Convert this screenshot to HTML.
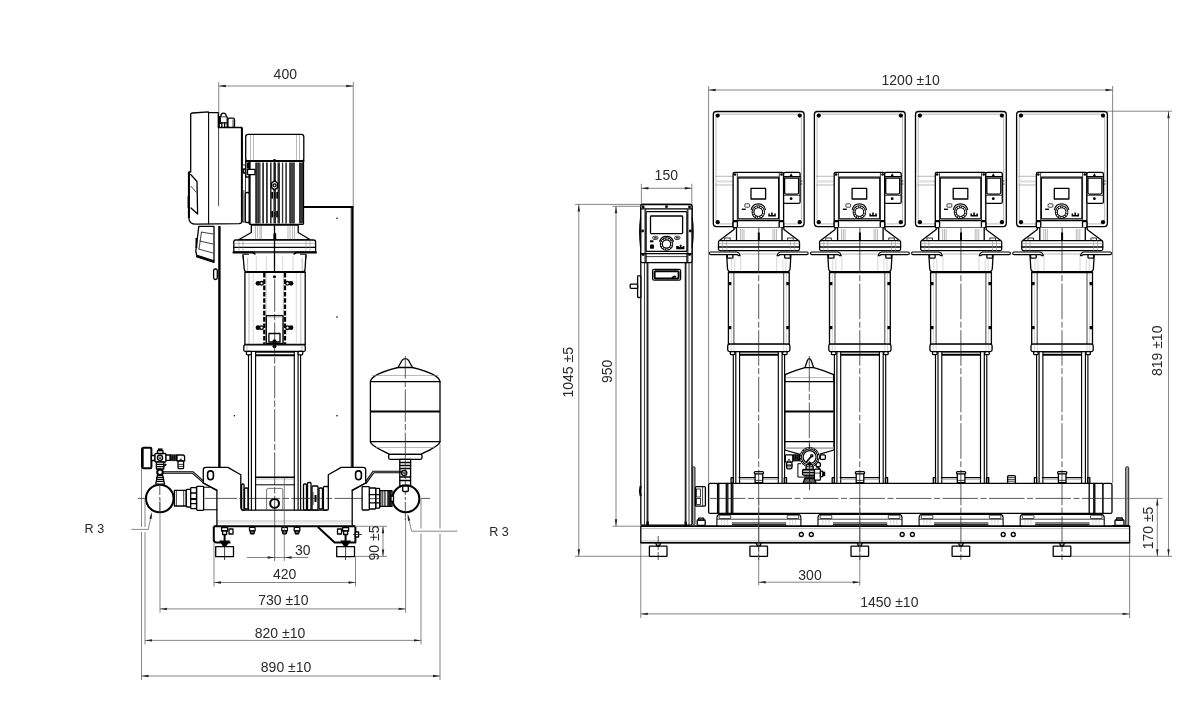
<!DOCTYPE html>
<html><head><meta charset="utf-8"><title>Drawing</title>
<style>
html,body{margin:0;padding:0;background:#fff;}
body{width:1200px;height:721px;overflow:hidden;font-family:"Liberation Sans",sans-serif;}
svg{display:block;}
.k{stroke:#000;stroke-width:1.3;fill:none;stroke-linejoin:round;stroke-linecap:round}
.kw{stroke:#000;stroke-width:1.3;fill:#fff;stroke-linejoin:round}
.K{stroke:#000;stroke-width:2;fill:none;stroke-linejoin:round}
.Kw{stroke:#000;stroke-width:2;fill:#fff;stroke-linejoin:round}
.t{stroke:#111;stroke-width:0.8;fill:none}
.tw{stroke:#111;stroke-width:0.8;fill:#fff}
.g{stroke:#8a8a8a;stroke-width:0.6;fill:none}
.gg{stroke:#bdbdbd;stroke-width:0.6;fill:none}
.d{stroke:#555;stroke-width:0.7;fill:none}
.e{stroke:#777;stroke-width:0.7;fill:none}
.c{stroke:#222;stroke-width:0.75;fill:none;stroke-dasharray:35.5 2.5 6 2.5}
.cl{stroke:#222;stroke-width:0.75;fill:none;stroke-dasharray:32.5 2.2 6.4 2.2}
.cs{stroke:#222;stroke-width:0.75;fill:none;stroke-dasharray:9 2 3 2}
.ar{fill:#222;stroke:none}
.f{fill:#000;stroke:none}
.w{fill:#fff;stroke:none}
text{font-family:"Liberation Sans",sans-serif;fill:#2a2a2a;}
svg{will-change:transform;opacity:0.999;}
</style></head><body>
<svg width="1200" height="721" viewBox="0 0 1200 721">
<rect x="0" y="0" width="1200" height="721" fill="#fff"/>
<g id="leftview">
<line x1="218.75" y1="82" x2="218.75" y2="207" class="d" />
<line x1="353.25" y1="82" x2="353.25" y2="207" class="d" />
<line x1="218.75" y1="86" x2="353.25" y2="86" class="d" />
<polygon points="218.75,86 225.75,84.8 225.75,87.2" class="ar"/>
<polygon points="353.25,86 346.25,87.2 346.25,84.8" class="ar"/>
<text x="285.3" y="79.3" text-anchor="middle" font-size="14">400</text>
<line x1="219.4" y1="226" x2="219.4" y2="467" class="K" style="stroke-width:2.4"/>
<line x1="304" y1="207" x2="353.3" y2="207" class="K" />
<line x1="352.4" y1="207" x2="352.4" y2="467" class="K" style="stroke-width:2.4"/>
<line x1="350.6" y1="208" x2="350.6" y2="467" class="g" />
<circle cx="337" cy="218.3" r="0.8" class="f" />
<circle cx="337" cy="317" r="0.8" class="f" />
<circle cx="234.4" cy="415.8" r="0.8" class="f" />
<circle cx="337" cy="415.8" r="0.8" class="f" />
<path d="M192.7,113 L208.2,111.9 L208.9,112.6 L218.3,112.6 L218.3,127.5 L241.9,127.5 L241.9,221 Q241.9,223.5 239,223.7 L196,224.2 Q189,224.2 188.9,218 L188.9,172 L190.7,172 L190.7,114.5 Q190.7,113.1 192.7,113 Z" class="kw" />
<line x1="208.6" y1="112.4" x2="208.6" y2="223.8" class="k" style="stroke-width:1.1"/>
<line x1="218.6" y1="127.5" x2="218.6" y2="206" class="t" />
<line x1="241.9" y1="128" x2="241.9" y2="222" class="K" />
<path d="M190.7,174.5 L197,181.5 L197.6,214 L191,208" class="k" />
<path d="M190.7,186 L196.5,192.5" class="t" />
<path d="M188.9,172 L188.9,218" class="K" />
<rect x="187.6" y="196" width="1.6" height="12" rx="0" class="f" />
<rect x="219.2" y="116.6" width="8.0" height="10.7" rx="0.8" class="kw" />
<path d="M220.8,116.6 Q220.8,113.2 223.4,113.2 Q226.2,113.2 226.2,116.6" class="kw" />
<rect x="219" y="116.2" width="1.9" height="7.8" rx="0" class="f" />
<line x1="219.2" y1="122.8" x2="227.2" y2="122.8" class="k" />
<line x1="221.8" y1="122.8" x2="221.8" y2="127" class="k" />
<line x1="224.6" y1="122.8" x2="224.6" y2="127" class="k" />
<rect x="227.9" y="118.2" width="6.6" height="9.1" rx="1.6" class="kw" />
<line x1="233" y1="119.5" x2="233" y2="127" class="t" />
<path d="M198.8,226.3 L214,226.3 L214,262.5 L197,257 L195.8,251 Z" class="kw" />
<path d="M196.2,255.5 L214,261.3" class="K" />
<path d="M201,232 L213,234 M199.5,241 L213,244 M198.3,249 L213,253" class="t" />
<path d="M201.5,232 L199,249" class="t" />
<rect x="195.5" y="238" width="1.8" height="10" rx="0" class="f" />
<rect x="213.6" y="269" width="3.7" height="10.5" rx="1.8" class="kw" />
<rect x="242.6" y="165" width="2.8" height="57" rx="0" class="tw" />
<line x1="243.9" y1="190" x2="243.9" y2="222" class="t" />
<rect x="243.6" y="169" width="2.2" height="4" rx="0" class="kw" />
<rect x="249.4" y="161.3" width="54.1" height="63.1" rx="1" class="kw" />
<rect x="245.8" y="161.3" width="3.6" height="15.7" rx="0" class="kw" />
<line x1="249.6" y1="162" x2="249.6" y2="224" class="K" />
<rect x="255" y="162.5" width="5.6" height="61" fill="#555"/>
<rect x="262.2" y="162.5" width="1.8" height="61" fill="#333"/>
<rect x="266" y="162.5" width="1.8" height="61" fill="#333"/>
<rect x="270" y="162.5" width="1.6" height="61" fill="#333"/>
<rect x="273.4" y="162.5" width="2.6" height="61" fill="#333"/>
<rect x="277.5" y="162.5" width="2.5" height="61" fill="#333"/>
<rect x="281.9" y="162.5" width="1.3" height="61" fill="#333"/>
<rect x="285.3" y="162.5" width="1.6" height="61" fill="#333"/>
<rect x="289" y="162.5" width="6" height="61" fill="#555"/>
<rect x="299" y="162.5" width="4" height="61" fill="#333"/>
<line x1="256.5" y1="163" x2="256.5" y2="223" class="k" style="stroke:#222;stroke-width:0.8"/>
<line x1="258.6" y1="163" x2="258.6" y2="223" class="k" style="stroke:#222;stroke-width:0.8"/>
<line x1="290.8" y1="163" x2="290.8" y2="223" class="k" style="stroke:#222;stroke-width:0.8"/>
<line x1="293" y1="163" x2="293" y2="223" class="k" style="stroke:#222;stroke-width:0.8"/>
<rect x="247.5" y="169.4" width="7.5" height="5.2" rx="0" class="kw" />
<rect x="246.9" y="162.5" width="2.5" height="6.0" rx="0" class="f" />
<rect x="245.3" y="192.5" width="3.9" height="30.0" rx="1.6" class="kw" />
<path d="M274.5,180.8 L277.5,183 L277.5,187.6 L274.5,189.8 L271.5,187.6 L271.5,183 Z" class="kw" style="stroke-width:1.5"/>
<circle cx="274.5" cy="185.3" r="1.5" class="k" />
<rect x="271.3" y="192" width="1.7" height="6.6" rx="0" class="f" />
<rect x="274" y="192" width="1.2" height="6.6" rx="0" class="f" />
<rect x="276.3" y="192" width="1.7" height="6.6" rx="0" class="f" />
<rect x="271.3" y="211" width="1.7" height="6.4" rx="0" class="f" />
<rect x="276.2" y="211" width="1.7" height="6.4" rx="0" class="f" />
<rect x="273.9" y="212" width="1.2" height="4.4" rx="0" class="f" />
<line x1="274.5" y1="162" x2="274.5" y2="180" class="t" />
<rect x="245.7" y="134.4" width="58.1" height="26.9" rx="2.5" class="kw" />
<line x1="250.5" y1="135" x2="250.5" y2="161" class="g" />
<line x1="253.5" y1="135" x2="253.5" y2="161" class="g" />
<line x1="296.5" y1="135" x2="296.5" y2="161" class="g" />
<line x1="299.5" y1="135" x2="299.5" y2="161" class="g" />
<circle cx="274.5" cy="160.3" r="1.4" class="f" />
<circle cx="246" cy="161" r="1" class="f" />
<circle cx="303.5" cy="161" r="1" class="f" />
<line x1="246" y1="160.9" x2="303.6" y2="160.9" class="k" style="stroke-width:1.6"/>
<rect x="242.6" y="238" width="7.0" height="2" rx="0" class="tw" />
<rect x="299.8" y="238" width="7.0" height="2" rx="0" class="tw" />
<path d="M251.3,225 L251.3,232.5 L238.7,239.8 L310.2,239.8 L298.2,232.5 L298.2,225 Z" class="kw" />
<line x1="255.5" y1="226" x2="255.5" y2="240" class="g" />
<line x1="257.6" y1="226" x2="257.6" y2="240" class="g" />
<line x1="260" y1="226" x2="260" y2="240" class="g" />
<line x1="261.3" y1="226" x2="261.3" y2="240" class="g" />
<line x1="288" y1="226" x2="288" y2="240" class="g" />
<line x1="290.1" y1="226" x2="290.1" y2="240" class="g" />
<line x1="292.6" y1="226" x2="292.6" y2="240" class="g" />
<line x1="294.6" y1="226" x2="294.6" y2="240" class="g" />
<path d="M273.4,240.6 L273.4,234 L274.8,232.2 L276.2,234 L276.2,240.6 Z" class="f" />
<path d="M235.5,240 L313.8,240 Q315.6,240 315.6,242 L315.6,252 L233.8,252 L233.8,242 Q233.8,240 235.5,240 Z" class="kw" />
<line x1="234" y1="243.4" x2="315.4" y2="243.4" class="g" />
<line x1="234" y1="247.3" x2="315.4" y2="247.3" class="k" />
<line x1="239" y1="240.5" x2="239" y2="252" class="g" />
<line x1="243" y1="240.5" x2="243" y2="252" class="g" />
<line x1="306" y1="240.5" x2="306" y2="252" class="g" />
<line x1="310" y1="240.5" x2="310" y2="252" class="g" />
<path d="M232.6,252.6 L252.5,252.6 Q254.5,252.8 255.2,254.6" class="K" />
<path d="M316.8,252.6 L296.5,252.6 Q294.5,252.8 293.8,254.6" class="K" />
<line x1="255" y1="253.4" x2="294" y2="253.4" class="g" />
<rect x="243.2" y="254.4" width="5.1" height="3.6" rx="0" class="kw" />
<rect x="300.7" y="254.4" width="5.1" height="3.6" rx="0" class="kw" />
<path d="M243,254.8 L244.2,269 Q244.4,271.9 247.4,271.9 L302,271.9 Q305,271.9 305.1,269 L305.9,254.8" class="kw" />
<line x1="247.6" y1="258" x2="247.6" y2="271" class="g" />
<line x1="302.2" y1="258" x2="302.2" y2="271" class="g" />
<line x1="256.3" y1="256" x2="256.3" y2="271" class="gg" />
<line x1="266.3" y1="256" x2="266.3" y2="271" class="gg" />
<line x1="282.6" y1="256" x2="282.6" y2="271" class="gg" />
<line x1="293" y1="256" x2="293" y2="271" class="gg" />
<rect x="244.9" y="271.9" width="60.3" height="72.6" rx="0" class="kw" />
<line x1="244.9" y1="272" x2="305.2" y2="272" class="K" />
<line x1="249" y1="273" x2="249" y2="344" class="g" />
<line x1="300.8" y1="273" x2="300.8" y2="344" class="g" />
<line x1="253.3" y1="273" x2="253.3" y2="344" class="gg" />
<line x1="296.3" y1="273" x2="296.3" y2="344" class="gg" />
<line x1="264.3" y1="273" x2="264.3" y2="344" class="K" stroke-dasharray="4.6 1.7" style="stroke-width:2.3"/>
<line x1="285" y1="273" x2="285" y2="344" class="K" stroke-dasharray="4.6 1.7" style="stroke-width:2.3"/>
<line x1="266" y1="273" x2="266" y2="344" class="g" />
<line x1="283.3" y1="273" x2="283.3" y2="344" class="g" />
<circle cx="258" cy="283.3" r="2.4" class="f" />
<circle cx="261.6" cy="283.3" r="1.8" class="kw" />
<circle cx="291" cy="283.3" r="2.4" class="f" />
<circle cx="287.5" cy="283.3" r="1.8" class="kw" />
<circle cx="258" cy="327.7" r="2.4" class="f" />
<circle cx="261.6" cy="327.7" r="1.8" class="kw" />
<circle cx="291" cy="327.7" r="2.4" class="f" />
<circle cx="287.5" cy="327.7" r="1.8" class="kw" />
<circle cx="274.5" cy="276.8" r="1.5" class="f" />
<rect x="266.3" y="315.6" width="16.7" height="27.9" rx="0" class="kw" />
<line x1="266.3" y1="317" x2="283" y2="317" class="g" />
<rect x="268.9" y="333.5" width="11.1" height="8.5" rx="0" class="kw" />
<circle cx="274.5" cy="341.2" r="2" class="f" />
<rect x="243.8" y="344.8" width="61.5" height="6.6" rx="1.5" class="kw" />
<line x1="247" y1="345" x2="247" y2="351" class="g" />
<line x1="302" y1="345" x2="302" y2="351" class="g" />
<circle cx="274.5" cy="346.3" r="1.9" class="f" />
<line x1="248.5" y1="351.5" x2="248.5" y2="510" class="k" style="stroke-width:1.15"/>
<line x1="251.4" y1="351.5" x2="251.4" y2="510" class="k" style="stroke-width:1.15"/>
<line x1="255.6" y1="351.5" x2="255.6" y2="510" class="k" style="stroke-width:1.15"/>
<line x1="294.3" y1="351.5" x2="294.3" y2="510" class="k" style="stroke-width:1.15"/>
<line x1="298.1" y1="351.5" x2="298.1" y2="510" class="k" style="stroke-width:1.15"/>
<line x1="300.6" y1="351.5" x2="300.6" y2="510" class="k" style="stroke-width:1.15"/>
<line x1="255.6" y1="355.2" x2="294.3" y2="355.2" class="K" />
<line x1="255.6" y1="352.5" x2="294.3" y2="352.5" class="t" />
<rect x="246.4" y="351.4" width="5.0" height="3.4" rx="1.2" class="kw" />
<rect x="298" y="351.4" width="4.8" height="3.4" rx="1.2" class="kw" />
<line x1="274.5" y1="226" x2="274.5" y2="272" class="k" />
<line x1="274.7" y1="277" x2="274.7" y2="510" class="cl" stroke-dashoffset="41.1"/>
<line x1="274.7" y1="510" x2="274.7" y2="561" class="d" style="stroke:#222"/>
<path d="M370.4,381.7 L370.4,441.7 Q371,446 389.6,454.3 L420.8,454.3 Q439.5,446 440,441.7 L440,381.7 Q439,374 412.5,367.5 L408.5,360.3 Q405.3,357 402.1,360.3 L398,367.5 Q371.5,374 370.4,381.7 Z" class="kw" />
<line x1="398" y1="367.5" x2="412.5" y2="367.5" class="k" />
<line x1="370.4" y1="381.7" x2="440" y2="381.7" class="k" />
<line x1="370.4" y1="411.5" x2="440" y2="411.5" class="K" />
<line x1="370.4" y1="441.7" x2="440" y2="441.7" class="k" />
<line x1="372" y1="375.5" x2="438.5" y2="375.5" class="g" />
<line x1="376" y1="447.5" x2="434.5" y2="447.5" class="g" />
<rect x="388.6" y="454.4" width="33.4" height="4.9" rx="1.5" class="kw" />
<rect x="399.8" y="459.3" width="10.8" height="26.7" rx="0" class="kw" />
<line x1="399.8" y1="462.5" x2="410.6" y2="462.5" class="k" />
<line x1="399.8" y1="465.5" x2="410.6" y2="465.5" class="k" />
<line x1="399.8" y1="468.5" x2="410.6" y2="468.5" class="k" />
<line x1="399.8" y1="477" x2="410.6" y2="477" class="k" />
<line x1="399.8" y1="480.5" x2="410.6" y2="480.5" class="k" />
<circle cx="404.2" cy="473" r="2.6" class="kw" />
<circle cx="404.2" cy="473" r="1" class="t" />
<rect x="402.6" y="486" width="5.8" height="5.5" rx="1" class="kw" />
<line x1="405.3" y1="356" x2="405.3" y2="470" class="cl" stroke-dashoffset="10"/>
<path d="M244,510.2 L325,510.2" class="k" />
<line x1="217" y1="521" x2="352" y2="521" class="g" />
<line x1="213.8" y1="526.3" x2="355.4" y2="526.3" class="K" />
<line x1="216.9" y1="523" x2="352" y2="523" class="gg" />
<path d="M203.3,483 L203.3,469.8 Q203.3,467.4 205.8,467.4 L227.8,467.4 L240.8,474.8 L240.8,507 Q240.8,510.2 244,510.2 M203.3,483 L216.9,490.4 L216.9,526" class="k" />
<path d="M210.5,470.9 a2.9,2.9 0 0 1 2.9,2.9 v3 a2.9,2.9 0 0 1 -5.8,0 v-3 a2.9,2.9 0 0 1 2.9,-2.9 Z" class="k" style="stroke-width:1.6"/>
<path d="M365.7,483 L365.7,469.8 Q365.7,467.4 363.2,467.4 L341.2,467.4 L328.3,474.8 L328.3,507 Q328.3,510.2 325,510.2 M365.7,483 L352.2,490.4 L352.2,526" class="k" />
<path d="M358.5,470.9 a2.9,2.9 0 0 1 2.9,2.9 v3 a2.9,2.9 0 0 1 -5.8,0 v-3 a2.9,2.9 0 0 1 2.9,-2.9 Z" class="k" style="stroke-width:1.6"/>
<line x1="255.6" y1="477.2" x2="294.3" y2="477.2" class="k" style="stroke-width:1.6"/>
<line x1="255.6" y1="484.8" x2="294.3" y2="484.8" class="k" style="stroke-width:1"/>
<line x1="256" y1="479" x2="294" y2="479" class="g" />
<path d="M266.6,510 L266.6,490 Q266.6,488.4 268.2,488.4 L281.2,488.4 Q282.8,488.4 282.8,490 L282.8,510" class="g" style="stroke:#555;stroke-width:0.8"/>
<circle cx="274.6" cy="503.4" r="4.4" class="K" />
<rect x="241.6" y="484" width="2.4" height="26" rx="1" class="kw" />
<rect x="244.5" y="488" width="3.5" height="21" rx="1" class="kw" />
<rect x="303.5" y="484" width="3.0" height="26" rx="1" class="kw" />
<rect x="307.5" y="482.5" width="3.5" height="27.5" rx="1" class="kw" />
<rect x="312" y="486" width="6" height="24" rx="1" class="kw" />
<rect x="319" y="488" width="3.5" height="21" rx="1" class="kw" />
<rect x="323.4" y="486.5" width="4.9" height="23.5" rx="1" class="kw" />
<line x1="313" y1="492" x2="313" y2="505" class="t" />
<line x1="315.5" y1="495" x2="315.5" y2="502" class="K" />
<line x1="138" y1="498.4" x2="430" y2="498.4" class="cl" stroke-dashoffset="20"/>
<rect x="174.4" y="490.3" width="11.9" height="15.7" rx="0" class="kw" />
<rect x="186.3" y="489.3" width="4.4" height="17.7" rx="0.8" class="kw" />
<rect x="190.7" y="487.7" width="5.8" height="21.0" rx="0.8" class="kw" />
<rect x="196.7" y="486.3" width="6.9" height="24.1" rx="0.8" class="kw" />
<path d="M203.6,487.3 L209.6,487.3 M203.6,509.8 L216.9,509.8" class="k" style="stroke-width:1.1"/>
<line x1="190.7" y1="493" x2="196.5" y2="493" class="k" />
<line x1="190.7" y1="499" x2="196.5" y2="499" class="K" />
<line x1="190.7" y1="503.7" x2="196.5" y2="503.7" class="k" />
<line x1="176.4" y1="490.5" x2="176.4" y2="506.5" class="t" />
<line x1="183.7" y1="490.5" x2="183.7" y2="506.5" class="t" />
<path d="M203.3,483 L216.9,490.4" class="k" />
<rect x="379.7" y="490.6" width="12.3" height="15.8" rx="0" class="kw" />
<line x1="381" y1="491" x2="381" y2="506" class="t" />
<line x1="382.4" y1="491" x2="382.4" y2="506" class="t" />
<line x1="384.2" y1="491" x2="384.2" y2="506" class="t" />
<line x1="385.2" y1="491" x2="385.2" y2="506" class="t" />
<line x1="387.4" y1="491" x2="387.4" y2="506" class="t" />
<line x1="388.8" y1="491" x2="388.8" y2="506" class="k" />
<line x1="389.8" y1="491" x2="389.8" y2="506" class="k" />
<line x1="390.8" y1="491" x2="390.8" y2="506" class="k" />
<rect x="375.7" y="488.4" width="4.0" height="19.8" rx="0.8" class="kw" />
<rect x="369.3" y="488" width="6.4" height="21" rx="0.8" class="kw" />
<rect x="362.1" y="486.6" width="7.2" height="23.4" rx="0.8" class="kw" />
<line x1="369.3" y1="494.7" x2="379.7" y2="494.7" class="k" />
<line x1="369.3" y1="502.8" x2="379.7" y2="502.8" class="k" />
<line x1="369.3" y1="498.7" x2="379.7" y2="498.7" class="t" />
<path d="M365.7,483 L352.2,490.4" class="k" />
<circle cx="159.8" cy="498.5" r="13.8" class="Kw" style="stroke-width:2.1"/>
<circle cx="405.85" cy="498.7" r="13.5" class="Kw" style="stroke-width:2.1"/>
<line x1="159.8" y1="486" x2="159.8" y2="512" class="cs" />
<line x1="405.3" y1="470" x2="405.3" y2="520" class="cs" />
<rect x="402.7" y="486" width="5.6" height="5.5" rx="1" class="kw" />
<rect x="391" y="496" width="2.5" height="5.5" rx="0" class="kw" />
<rect x="142.2" y="447.8" width="9.2" height="20.4" rx="1.2" class="Kw" />
<line x1="142.3" y1="448.5" x2="142.3" y2="467.5" class="K" style="stroke-width:2.6"/>
<rect x="151.4" y="455.5" width="3.6" height="5.0" rx="0" class="kw" />
<rect x="155" y="453.5" width="11" height="8.5" rx="1" class="kw" />
<circle cx="160" cy="457.8" r="2.6" class="k" />
<circle cx="160" cy="457.8" r="1" class="t" />
<rect x="157.5" y="450.5" width="5.5" height="3.0" rx="0.6" class="kw" />
<rect x="158" y="448.4" width="4.5" height="2.2" rx="0" class="f" />
<rect x="166" y="455" width="4" height="5.3" rx="0" class="kw" />
<rect x="170" y="454.4" width="7" height="6.6" rx="0" class="f" />
<line x1="171.8" y1="454.4" x2="171.8" y2="461" class="k" style="stroke:#777;stroke-width:0.5"/>
<line x1="173.6" y1="454.4" x2="173.6" y2="461" class="k" style="stroke:#777;stroke-width:0.5"/>
<line x1="175.4" y1="454.4" x2="175.4" y2="461" class="k" style="stroke:#777;stroke-width:0.5"/>
<path d="M177,455 L182.6,455 Q184.6,455 184.6,457 L184.6,461 L177,461 Z" class="kw" />
<rect x="178" y="461" width="5.6" height="7.6" rx="1.2" class="kw" />
<line x1="178" y1="464.4" x2="183.6" y2="464.4" class="t" />
<line x1="178" y1="466.4" x2="183.6" y2="466.4" class="t" />
<path d="M179.4,461 L180.8,458.6 L182.2,461" class="t" />
<rect x="156.4" y="462" width="7.4" height="7" rx="0" class="kw" />
<line x1="156.4" y1="464.4" x2="163.8" y2="464.4" class="k" />
<line x1="156.4" y1="466.6" x2="163.8" y2="466.6" class="k" />
<path d="M163.8,465 l2,-1.6 l1,1.4 l-2,1.8" class="f" />
<circle cx="160" cy="472.3" r="2.8" class="Kw" />
<path d="M157.4,475.4 L162.8,475.4 L164.4,484.2 L155.8,484.2 Z" class="kw" />
<line x1="156.6" y1="477.4" x2="163.6" y2="477.4" class="k" />
<line x1="156.6" y1="479.4" x2="163.6" y2="479.4" class="k" />
<line x1="156.6" y1="481.4" x2="163.6" y2="481.4" class="k" />
<path d="M162.6,471.7 L193,471.7 L203.4,480.9 M162.6,473.3 L192.5,473.3 L203.4,482.9" class="k" style="stroke-width:1.1"/>
<path d="M365.7,481.6 L373,471.2 L402,471.2 M366.2,483.4 L373.9,472.7 L402,472.7" class="k" style="stroke-width:1.1"/>
<rect x="215.7" y="546.7" width="17.8" height="10.0" rx="0" class="kw" />
<rect x="221.6" y="527.5" width="6.0" height="3.5" rx="0" class="kw" />
<rect x="222.6" y="531" width="4.0" height="3.5" rx="0" class="kw" />
<line x1="224.6" y1="534.5" x2="224.6" y2="541" class="K" />
<path d="M219.1,540.5 L230.1,540.5 L226.1,546.5 L223.1,546.5 Z" class="f" />
<line x1="224.6" y1="546" x2="224.6" y2="560" class="t" />
<rect x="336.7" y="546.7" width="17.8" height="10.0" rx="0" class="kw" />
<rect x="342.6" y="527.5" width="6.0" height="3.5" rx="0" class="kw" />
<rect x="343.6" y="531" width="4.0" height="3.5" rx="0" class="kw" />
<line x1="345.6" y1="534.5" x2="345.6" y2="541" class="K" />
<path d="M340.1,540.5 L351.1,540.5 L347.1,546.5 L344.1,546.5 Z" class="f" />
<line x1="345.6" y1="546" x2="345.6" y2="560" class="t" />
<rect x="229" y="529" width="4" height="5" rx="0" class="kw" />
<rect x="337.5" y="529" width="4.0" height="5" rx="0" class="kw" />
<path d="M213.8,526.5 L213.8,540 Q213.9,542.3 216.2,542.4 L230.5,542.6" class="K" />
<path d="M317.9,527 L334.6,542.5 L355.4,542.5 L355.4,527" class="K" />
<rect x="355.4" y="532" width="3.2" height="5" rx="0" class="kw" />
<line x1="353" y1="534.5" x2="362" y2="534.5" class="t" />
<rect x="249.5" y="527.3" width="5.6" height="3.7" rx="0.6" class="kw" />
<rect x="250.3" y="531" width="4.0" height="2.6" rx="1" class="kw" />
<line x1="250.3" y1="533.4" x2="254.3" y2="533.4" class="K" />
<rect x="281.8" y="527.3" width="5.6" height="3.7" rx="0.6" class="kw" />
<rect x="282.6" y="531" width="4.0" height="2.6" rx="1" class="kw" />
<line x1="282.6" y1="533.4" x2="286.6" y2="533.4" class="K" />
<rect x="294.2" y="527.3" width="5.6" height="3.7" rx="0.6" class="kw" />
<rect x="295" y="531" width="4" height="2.6" rx="1" class="kw" />
<line x1="295" y1="533.4" x2="299" y2="533.4" class="K" />
<line x1="284.3" y1="477.5" x2="284.3" y2="561" class="d" />
<line x1="247" y1="557.5" x2="308.5" y2="557.5" class="d" />
<polygon points="274.6,557.5 267.6,558.7 267.6,556.3" class="ar"/>
<polygon points="284.6,557.5 291.6,556.3 291.6,558.7" class="ar"/>
<text x="302.8" y="555.2" text-anchor="middle" font-size="14">30</text>
<line x1="214" y1="543" x2="214" y2="586.5" class="d" />
<line x1="355.5" y1="557" x2="355.5" y2="586.5" class="d" />
<line x1="214" y1="582.5" x2="355.5" y2="582.5" class="d" />
<polygon points="214,582.5 221.0,581.3 221.0,583.7" class="ar"/>
<polygon points="355.5,582.5 348.5,583.7 348.5,581.3" class="ar"/>
<text x="284.7" y="579.3" text-anchor="middle" font-size="14">420</text>
<line x1="160" y1="499" x2="160" y2="612.8" class="d" />
<line x1="405.6" y1="515" x2="405.6" y2="612.8" class="d" />
<line x1="160" y1="608.9" x2="405.6" y2="608.9" class="d" />
<polygon points="160,608.9 167.0,607.6999999999999 167.0,610.1" class="ar"/>
<polygon points="405.6,608.9 398.6,610.1 398.6,607.6999999999999" class="ar"/>
<text x="283.4" y="604.8" text-anchor="middle" font-size="14">730 ±10</text>
<line x1="145" y1="499" x2="145" y2="644.5" class="d" />
<line x1="421" y1="499" x2="421" y2="644.5" class="d" />
<line x1="145" y1="640.4" x2="421" y2="640.4" class="d" />
<polygon points="145,640.4 152.0,639.1999999999999 152.0,641.6" class="ar"/>
<polygon points="421,640.4 414.0,641.6 414.0,639.1999999999999" class="ar"/>
<text x="280" y="637.8" text-anchor="middle" font-size="14">820 ±10</text>
<line x1="141.5" y1="468.5" x2="141.5" y2="680" class="d" />
<line x1="440" y1="444" x2="440" y2="680" class="d" />
<line x1="141.5" y1="676" x2="440" y2="676" class="d" />
<polygon points="141.5,676 148.5,674.8 148.5,677.2" class="ar"/>
<polygon points="440,676 433.0,677.2 433.0,674.8" class="ar"/>
<text x="286.1" y="672.2" text-anchor="middle" font-size="14">890 ±10</text>
<line x1="355" y1="526.3" x2="387" y2="526.3" class="d" />
<line x1="355" y1="556.4" x2="387" y2="556.4" class="d" />
<line x1="383" y1="526.3" x2="383" y2="556.4" class="d" />
<polygon points="383,526.3 384.2,533.3 381.8,533.3" class="ar"/>
<polygon points="383,556.4 381.8,549.4 384.2,549.4" class="ar"/>
<text x="378.6" y="543" text-anchor="middle" font-size="14" transform="rotate(-90 378.6 543)">90 ±5</text>
<rect x="140" y="527" width="7" height="5" rx="0" class="w" />
<path d="M131.3,529.4 L148.3,529.4 L151.5,514" class="d" />
<polygon points="151.9,512 151.676,519.1 149.324,518.62" class="ar"/>
<rect x="419" y="528.5" width="23" height="5" rx="0" class="w" />
<path d="M457.5,531.2 L411.6,531.2 L408,516" class="d" />
<polygon points="407.6,513.8 410.31000000000006,520.361 407.97,520.889" class="ar"/>
<text x="84.6" y="533" font-size="13.6" textLength="19.6" lengthAdjust="spacingAndGlyphs">R 3</text>
<text x="489.2" y="535.8" font-size="13.6" textLength="19.6" lengthAdjust="spacingAndGlyphs">R 3</text>
</g>
<g id="rightview">
<line x1="708.6" y1="86" x2="708.6" y2="483" class="d" />
<line x1="1112.6" y1="86" x2="1112.6" y2="483" class="d" />
<line x1="708.6" y1="90" x2="1112.6" y2="90" class="d" />
<polygon points="708.6,90 715.6,88.8 715.6,91.2" class="ar"/>
<polygon points="1112.6,90 1105.6,91.2 1105.6,88.8" class="ar"/>
<text x="910.7" y="84.9" text-anchor="middle" font-size="14">1200 ±10</text>
<rect x="640.8" y="204.5" width="51.2" height="320.7" rx="1.5" class="kw" />
<line x1="644.5" y1="263" x2="644.5" y2="525" class="t" />
<line x1="647.5" y1="263" x2="647.5" y2="525" class="K" style="stroke-width:1.9;stroke:#222"/>
<line x1="685.6" y1="263" x2="685.6" y2="525" class="K" style="stroke-width:1.8;stroke:#222"/>
<line x1="689" y1="263" x2="689" y2="525" class="t" />
<rect x="646.4" y="521.5" width="2.4" height="3.7" rx="0" class="f" />
<rect x="684.6" y="521.5" width="2.2" height="3.7" rx="0" class="f" />
<rect x="640.8" y="204.5" width="51.2" height="58.1" rx="1.5" class="kw" />
<line x1="641" y1="208.9" x2="692" y2="208.9" class="k" />
<line x1="644.9" y1="209" x2="644.9" y2="262" class="t" />
<line x1="688" y1="209" x2="688" y2="262" class="t" />
<rect x="646" y="211.6" width="41" height="39.8" rx="1" class="k" />
<rect x="650.5" y="216" width="32.1" height="17.6" rx="0.8" class="k" />
<line x1="641" y1="253.6" x2="692" y2="253.6" class="k" />
<line x1="646" y1="256.6" x2="687" y2="256.6" class="t" />
<line x1="646" y1="253.6" x2="646" y2="262.6" class="k" />
<line x1="687" y1="253.6" x2="687" y2="262.6" class="k" />
<line x1="645.8" y1="209" x2="645.8" y2="253" class="t" />
<line x1="687.2" y1="209" x2="687.2" y2="253" class="t" />
<circle cx="643.2" cy="206.9" r="1.4" class="f" />
<circle cx="689.5" cy="206.9" r="1.4" class="f" />
<circle cx="666.5" cy="206.7" r="1.4" class="f" />
<circle cx="643" cy="254.6" r="1.4" class="f" />
<circle cx="689.5" cy="254.6" r="1.4" class="f" />
<circle cx="642.6" cy="231" r="1.4" class="f" />
<circle cx="690.3" cy="231" r="1.4" class="f" />
<path d="M640.6,218 Q638.8,231 640.6,247" class="k" />
<path d="M692.2,218 Q694,231 692.2,247" class="k" />
<circle cx="666.5" cy="244" r="5.2" class="k" style="stroke-width:3.2"/>
<circle cx="666.5" cy="244" r="5.2" class="k" style="stroke:#fff;stroke-width:1.1;stroke-dasharray:0.8 1.6"/>
<path d="M659.6,241.2 A7.4,7.4 0 0 1 673.4,241.2" class="k" />
<rect x="652.6" y="236.3" width="5.4" height="3.2" rx="1.6" class="t" />
<rect x="674.6" y="236.3" width="5.4" height="3.2" rx="1.6" class="t" />
<line x1="654.4" y1="237.9" x2="656.4" y2="237.9" class="k" />
<line x1="676.4" y1="237.9" x2="678.4" y2="237.9" class="k" />
<line x1="650" y1="241.3" x2="653.4" y2="241.3" class="K" />
<rect x="650" y="244.6" width="4" height="4.2" rx="0.8" class="f" />
<path d="M676.2,249.2 h8.2 v-3.2 h-1.7 v1 h-1.2 v-2.2 h-1.7 v2.2 h-1 v-1 h-2.6 Z" class="f" />
<rect x="652.6" y="269.3" width="28.0" height="10.9" rx="1.5" class="k" />
<rect x="654.6" y="271.2" width="24.0" height="7.2" rx="1" class="K" />
<path d="M672,278.4 q1.5,-2.8 4,-1.6" class="K" />
<rect x="637.6" y="275.8" width="3.2" height="21.7" rx="0.8" class="kw" />
<rect x="630.2" y="284.2" width="7.4" height="4.2" rx="0.8" class="kw" />
<circle cx="641" cy="500" r="0" class="f" />
<path d="M640.6,486 q-1.4,5 0,10" class="K" />
<rect x="692.4" y="466.8" width="2.6" height="57.6" rx="1" fill="#aaa" stroke="#111" stroke-width="0.9"/>
<rect x="695.4" y="486.6" width="10.0" height="19.6" rx="1" class="kw" />
<rect x="696.6" y="489" width="3.9" height="8" rx="0" class="t" />
<rect x="696.6" y="498.5" width="3.9" height="6.0" rx="0" class="t" />
<line x1="702.6" y1="487" x2="702.6" y2="506" class="t" />
<rect x="697.2" y="520" width="8.0" height="5.4" rx="0.8" class="kw" />
<rect x="698.6" y="518.2" width="5.2" height="1.8" rx="0.6" class="kw" />
<path d="M784.8,381.7 L784.8,450 L800,454.4 M834,381.7 L834,450 L820,454.2" class="k" />
<path d="M785,374.6 Q797,369.6 804.9,367.6 L807.5,360.2 Q809.3,357 811.0999999999999,360.2 L813.6999999999999,367.6 Q821.6,369.6 833.6,374.6" class="k" />
<line x1="804.9" y1="367.6" x2="813.6999999999999" y2="367.6" class="k" />
<line x1="785" y1="374.6" x2="785" y2="381.7" class="k" />
<line x1="833.6" y1="374.6" x2="833.6" y2="381.7" class="k" />
<line x1="785" y1="377.6" x2="833.6" y2="377.6" class="g" />
<line x1="785" y1="381.7" x2="833.6" y2="381.7" class="k" />
<line x1="785" y1="411.5" x2="833.6" y2="411.5" class="K" />
<line x1="785" y1="441.7" x2="833.6" y2="441.7" class="k" />
<rect x="785" y="447.3" width="49" height="1.6" fill="#aaa"/>
<line x1="809.3" y1="356" x2="809.3" y2="490" class="c" />
<path d="M717.6,483.4 L1103,483.4 L1103,513.4 L717.6,513.4 Z" class="kw" />
<rect x="708.6" y="483.4" width="9.0" height="30.0" rx="1.5" class="kw" />
<line x1="718.8" y1="483.4" x2="718.8" y2="513.4" class="k" />
<line x1="726.3" y1="483.4" x2="726.3" y2="513.4" class="k" />
<line x1="727.8" y1="483.4" x2="727.8" y2="513.4" class="k" />
<line x1="731.3" y1="483.4" x2="731.3" y2="513.4" class="k" />
<line x1="732.8" y1="483.4" x2="732.8" y2="513.4" class="k" />
<rect x="1103" y="483.4" width="9" height="30.0" rx="1.5" class="kw" />
<line x1="1089.2" y1="483.4" x2="1089.2" y2="513.4" class="k" />
<line x1="1093.8" y1="483.4" x2="1093.8" y2="513.4" class="k" />
<line x1="1094.8" y1="483.4" x2="1094.8" y2="513.4" class="k" />
<line x1="710" y1="498.4" x2="1112" y2="498.4" class="c" />
<rect x="1007.6" y="475.6" width="7.8" height="7.8" rx="1.2" class="kw" />
<line x1="1007.6" y1="477.6" x2="1015.4" y2="477.6" class="t" />
<line x1="1007.6" y1="479.4" x2="1015.4" y2="479.4" class="t" />
<line x1="1007.6" y1="481.2" x2="1015.4" y2="481.2" class="t" />
<rect x="640.8" y="526.2" width="488.8" height="16.4" rx="0" class="kw" />
<line x1="640.8" y1="526.3" x2="1129.6" y2="526.3" class="k" style="stroke-width:1.4"/>
<line x1="640.8" y1="542.8" x2="1129.6" y2="542.8" class="k" style="stroke-width:1.5"/>
<line x1="641" y1="528.6" x2="1129.4" y2="528.6" class="g" />
<line x1="641" y1="541" x2="1129.4" y2="541" class="g" />
<circle cx="801.3" cy="534.5" r="2" class="k" />
<circle cx="811.3" cy="534.5" r="2" class="k" />
<circle cx="902.2" cy="534.5" r="2" class="k" />
<circle cx="912.4" cy="534.5" r="2" class="k" />
<circle cx="1003.2" cy="534.5" r="2" class="k" />
<circle cx="1013.3" cy="534.5" r="2" class="k" />
<rect x="649.4" y="546.2" width="17.6" height="10.2" rx="0.5" class="kw" />
<path d="M655.6,542.8 L657.0,546 L659.4000000000001,546 L660.8000000000001,542.8" class="k" />
<rect x="749.9" y="546.2" width="17.6" height="10.2" rx="0.5" class="kw" />
<path d="M756.1,542.8 L757.5,546 L759.9000000000001,546 L761.3000000000001,542.8" class="k" />
<rect x="851.0" y="546.2" width="17.6" height="10.2" rx="0.5" class="kw" />
<path d="M857.1999999999999,542.8 L858.5999999999999,546 L861.0,546 L862.4,542.8" class="k" />
<rect x="952.1" y="546.2" width="17.6" height="10.2" rx="0.5" class="kw" />
<path d="M958.3,542.8 L959.6999999999999,546 L962.1,546 L963.5,542.8" class="k" />
<rect x="1053.2" y="546.2" width="17.6" height="10.2" rx="0.5" class="kw" />
<path d="M1059.4,542.8 L1060.8,546 L1063.2,546 L1064.6,542.8" class="k" />
<line x1="658.2" y1="536" x2="658.2" y2="560" class="cs" />
<rect x="1125.7" y="466.8" width="3" height="58.6" rx="1.2" fill="#aaa" stroke="#111" stroke-width="0.9"/>
<rect x="1115" y="520" width="9" height="5.4" rx="0.8" class="kw" />
<rect x="1116.6" y="518" width="5.8" height="2" rx="0.6" class="kw" />
<path d="M1112.6,525.6 L1128.8,525.6" class="k" />
<g transform="translate(758.7 0)">
<rect x="-45.4" y="111.5" width="90.8" height="115.1" rx="3" class="kw" />
<rect x="-42.7" y="114.2" width="85.4" height="109.7" rx="1.5" class="g" />
<circle cx="-41" cy="115.6" r="2.1" class="f" />
<circle cx="41" cy="115.6" r="2.1" class="f" />
<circle cx="-41" cy="222.2" r="2.1" class="f" />
<circle cx="41" cy="222.2" r="2.1" class="f" />
<line x1="-43.6" y1="176.3" x2="-25" y2="176.3" class="g" />
<line x1="-43.6" y1="185" x2="-25" y2="185" class="g" />
<rect x="-43.4" y="180.3" width="18" height="2.2" rx="0" class="w" style="fill:#ddd"/>
<rect x="-25.6" y="172.3" width="50.5" height="55.3" rx="1.5" class="kw" />
<rect x="-20.7" y="177.2" width="40.7" height="41.7" rx="0.5" class="k" />
<line x1="-20.7" y1="178.3" x2="20" y2="178.3" class="t" />
<rect x="-7.7" y="188.3" width="14.6" height="10.7" rx="0" class="k" />
<line x1="-25" y1="220.6" x2="24.4" y2="220.6" class="k" />
<line x1="-21.4" y1="172.5" x2="-21.4" y2="227.4" class="t" />
<line x1="20.6" y1="172.5" x2="20.6" y2="227.4" class="t" />
<circle cx="-23.7" cy="174.5" r="1.3" class="f" />
<circle cx="22.8" cy="174.5" r="1.3" class="f" />
<circle cx="-23.7" cy="222.6" r="1.4" class="f" />
<circle cx="22.8" cy="222.6" r="1.4" class="f" />
<rect x="-25.6" y="221.5" width="4.3" height="6.1" rx="0.8" class="kw" />
<rect x="20.5" y="221.5" width="4.4" height="6.1" rx="0.8" class="kw" />
<circle cx="-0.4" cy="212.1" r="5.3" class="k" style="stroke-width:3"/>
<circle cx="-0.4" cy="212.1" r="5.3" class="k" style="stroke:#fff;stroke-width:1.1;stroke-dasharray:0.8 1.6"/>
<path d="M-7.6,209.6 A7.4,7.4 0 0 1 6.8,209.6" class="k" style="stroke-width:1.1"/>
<rect x="-13.9" y="203.8" width="4.8" height="3.4" rx="0.8" class="t" />
<line x1="-16.9" y1="209.3" x2="-13" y2="209.3" class="K" style="stroke-width:1.4"/>
<path d="M9.6,216.5 h7.5 v-2.9 h-1.6 v1.3 h-1.5 v-2.3 h-1.6 v2.3 h-1.3 v-1.3 h-1.5 Z" class="f" />
<rect x="24.9" y="172.3" width="16.5" height="31.1" rx="1.5" class="kw" />
<path d="M25.9,178.1 L39.9,178.1 L39.9,192.6 Q39.9,194.1 38.4,194.1 L27.4,194.1 Q25.9,194.1 25.9,192.6 Z" class="k" />
<line x1="24.9" y1="195.3" x2="41.4" y2="195.3" class="t" />
<circle cx="32.4" cy="198.7" r="1.4" class="f" />
<path d="M30.6,176.4 L32.4,173.3 L34.2,176.4 Z" class="f" />
<line x1="24.9" y1="176.6" x2="41.4" y2="176.6" class="k" />
<line x1="41.4" y1="181" x2="43.6" y2="181" class="t" />
<line x1="41.4" y1="184" x2="43.6" y2="184" class="t" />
<rect x="-22.2" y="227.6" width="45.5" height="12.9" rx="0" class="w" />
<path d="M-22.2,227.6 L-22.2,240.5 M23.3,227.6 L23.3,240.5 M-24.7,227.6 L-24.7,229.6 L-39.2,240.5 M25.2,227.6 L25.2,229.6 L39.8,240.5" class="k" />
<line x1="-18.2" y1="229" x2="-18.2" y2="240" class="g" />
<line x1="-16.4" y1="229" x2="-16.4" y2="240" class="g" />
<line x1="-14.7" y1="229" x2="-14.7" y2="240" class="g" />
<line x1="14.3" y1="229" x2="14.3" y2="240" class="g" />
<line x1="16" y1="229" x2="16" y2="240" class="g" />
<line x1="17.8" y1="229" x2="17.8" y2="240" class="g" />
<rect x="-0.9" y="232.5" width="2" height="8" rx="0" class="f" />
<line x1="0.1" y1="228" x2="0.1" y2="240" class="t" />
<rect x="-34" y="238" width="5.5" height="2.5" rx="0" class="t" />
<rect x="29" y="238" width="5.5" height="2.5" rx="0" class="t" />
<rect x="-40.2" y="240.6" width="81.0" height="10.0" rx="1.5" class="kw" />
<line x1="-40" y1="247" x2="40.6" y2="247" class="k" />
<line x1="-40" y1="243.6" x2="40.6" y2="243.6" class="g" />
<line x1="-36" y1="241" x2="-36" y2="251" class="g" />
<line x1="-32" y1="241" x2="-32" y2="251" class="g" />
<line x1="31.6" y1="241" x2="31.6" y2="251" class="g" />
<line x1="35.6" y1="241" x2="35.6" y2="251" class="g" />
<path d="M-48,252 L-22,252 Q-19.2,252.3 -18.6,255.6 L-20.4,255.6 Q-20.6,254.6 -22,254.6 L-48,254.6 Q-49.3,254.6 -49.3,253.3 Q-49.3,252 -48,252 Z" class="kw" style="stroke-width:1.1"/>
<path d="M48.2,252 L21.8,252 Q19,252.3 18.4,255.6 L20.2,255.6 Q20.4,254.6 21.8,254.6 L48.2,254.6 Q49.5,254.6 49.5,253.3 Q49.5,252 48.2,252 Z" class="kw" style="stroke-width:1.1"/>
<line x1="-18" y1="254" x2="18" y2="254" class="g" />
<rect x="-31.4" y="254.6" width="5.6" height="3.6" rx="0.8" class="kw" />
<rect x="26" y="254.6" width="5.6" height="3.6" rx="0.8" class="kw" />
<path d="M-32,255 L-31.2,268.5 Q-31,271.7 -27.5,271.7 L27.7,271.7 Q31.2,271.7 31.4,268.5 L32.2,255" class="k" />
<line x1="-27" y1="258.4" x2="-27" y2="271" class="gg" />
<line x1="-24" y1="258.4" x2="-24" y2="271" class="gg" />
<line x1="24.2" y1="258.4" x2="24.2" y2="271" class="gg" />
<line x1="27.2" y1="258.4" x2="27.2" y2="271" class="gg" />
<line x1="-18" y1="256" x2="-18" y2="271" class="gg" />
<line x1="18" y1="256" x2="18" y2="271" class="gg" />
<rect x="-30.3" y="271.9" width="60.8" height="72.3" rx="0" class="k" />
<line x1="-30.3" y1="272.2" x2="30.5" y2="272.2" class="K" />
<line x1="-24.8" y1="273" x2="-24.8" y2="344" class="t" />
<line x1="25" y1="273" x2="25" y2="344" class="t" />
<line x1="-27.5" y1="273" x2="-27.5" y2="344" class="gg" />
<line x1="27.7" y1="273" x2="27.7" y2="344" class="gg" />
<rect x="-30" y="282.0" width="2.6" height="3.2" rx="0" class="f" />
<rect x="27.6" y="282.0" width="2.6" height="3.2" rx="0" class="f" />
<rect x="-30" y="326.0" width="2.6" height="3.2" rx="0" class="f" />
<rect x="27.6" y="326.0" width="2.6" height="3.2" rx="0" class="f" />
<rect x="-31" y="344.2" width="62.2" height="7.4" rx="1.8" class="kw" />
<line x1="-27.5" y1="345" x2="-27.5" y2="351" class="gg" />
<line x1="-24.8" y1="345" x2="-24.8" y2="351" class="gg" />
<line x1="25" y1="345" x2="25" y2="351" class="gg" />
<line x1="27.7" y1="345" x2="27.7" y2="351" class="gg" />
<line x1="-25.4" y1="351.6" x2="-25.4" y2="483.4" class="k" style="stroke-width:1.15"/>
<line x1="-22.9" y1="351.6" x2="-22.9" y2="483.4" class="k" style="stroke-width:1.15"/>
<line x1="-19.1" y1="351.6" x2="-19.1" y2="483.4" class="k" style="stroke-width:1.15"/>
<line x1="19.6" y1="351.6" x2="19.6" y2="483.4" class="k" style="stroke-width:1.15"/>
<line x1="23.4" y1="351.6" x2="23.4" y2="483.4" class="k" style="stroke-width:1.15"/>
<line x1="25.9" y1="351.6" x2="25.9" y2="483.4" class="k" style="stroke-width:1.15"/>
<line x1="-19.1" y1="354.8" x2="19.6" y2="354.8" class="K" />
<line x1="-19.1" y1="352.2" x2="19.6" y2="352.2" class="t" />
<rect x="-28.4" y="351.6" width="4.6" height="3.0" rx="1.2" class="kw" />
<rect x="23.9" y="351.6" width="4.5" height="3.0" rx="1.2" class="kw" />
<line x1="-19.6" y1="477.6" x2="19.8" y2="477.6" class="k" />
<line x1="-19.6" y1="479.6" x2="19.8" y2="479.6" class="g" />
<rect x="-27.6" y="477.6" width="2.2" height="5.8" rx="0" class="k" />
<rect x="25.6" y="477.6" width="2.2" height="5.8" rx="0" class="k" />
<rect x="-3.6" y="472.6" width="7.6" height="10.0" rx="0" class="kw" />
<rect x="-4.4" y="471.6" width="9.2" height="2.2" rx="1" class="kw" />
<line x1="-3.6" y1="480.4" x2="4" y2="480.4" class="t" />
<path d="M-41.8,525.6 L-41.8,517.4 Q-41.6,514.4 -38.6,514.4 L39,514.4 Q42,514.4 42.2,517.4 L42.2,525.6" class="k" style="stroke-width:1.1"/>
<rect x="-39.6" y="515.2" width="11.6" height="3.4" rx="0.8" class="t" />
<rect x="28.5" y="515.2" width="11.5" height="3.4" rx="0.8" class="t" />
<line x1="-41.8" y1="519.2" x2="42.2" y2="519.2" class="t" />
<line x1="-26.8" y1="522.8" x2="27.5" y2="522.8" class="t" />
<rect x="-26.8" y="523.6" width="54.3" height="2.1" fill="#2a2a2a"/>
<line x1="-37" y1="519.8" x2="-37" y2="525.5" class="gg" />
<line x1="-34" y1="519.8" x2="-34" y2="525.5" class="gg" />
<line x1="-31" y1="519.8" x2="-31" y2="525.5" class="gg" />
<line x1="31" y1="519.8" x2="31" y2="525.5" class="gg" />
<line x1="34" y1="519.8" x2="34" y2="525.5" class="gg" />
<line x1="37" y1="519.8" x2="37" y2="525.5" class="gg" />
<line x1="0" y1="241" x2="0" y2="560" class="c" stroke-dashoffset="3.8"/>
</g>
<g transform="translate(859.8 0)">
<rect x="-45.4" y="111.5" width="90.8" height="115.1" rx="3" class="kw" />
<rect x="-42.7" y="114.2" width="85.4" height="109.7" rx="1.5" class="g" />
<circle cx="-41" cy="115.6" r="2.1" class="f" />
<circle cx="41" cy="115.6" r="2.1" class="f" />
<circle cx="-41" cy="222.2" r="2.1" class="f" />
<circle cx="41" cy="222.2" r="2.1" class="f" />
<line x1="-43.6" y1="176.3" x2="-25" y2="176.3" class="g" />
<line x1="-43.6" y1="185" x2="-25" y2="185" class="g" />
<rect x="-43.4" y="180.3" width="18" height="2.2" rx="0" class="w" style="fill:#ddd"/>
<rect x="-25.6" y="172.3" width="50.5" height="55.3" rx="1.5" class="kw" />
<rect x="-20.7" y="177.2" width="40.7" height="41.7" rx="0.5" class="k" />
<line x1="-20.7" y1="178.3" x2="20" y2="178.3" class="t" />
<rect x="-7.7" y="188.3" width="14.6" height="10.7" rx="0" class="k" />
<line x1="-25" y1="220.6" x2="24.4" y2="220.6" class="k" />
<line x1="-21.4" y1="172.5" x2="-21.4" y2="227.4" class="t" />
<line x1="20.6" y1="172.5" x2="20.6" y2="227.4" class="t" />
<circle cx="-23.7" cy="174.5" r="1.3" class="f" />
<circle cx="22.8" cy="174.5" r="1.3" class="f" />
<circle cx="-23.7" cy="222.6" r="1.4" class="f" />
<circle cx="22.8" cy="222.6" r="1.4" class="f" />
<rect x="-25.6" y="221.5" width="4.3" height="6.1" rx="0.8" class="kw" />
<rect x="20.5" y="221.5" width="4.4" height="6.1" rx="0.8" class="kw" />
<circle cx="-0.4" cy="212.1" r="5.3" class="k" style="stroke-width:3"/>
<circle cx="-0.4" cy="212.1" r="5.3" class="k" style="stroke:#fff;stroke-width:1.1;stroke-dasharray:0.8 1.6"/>
<path d="M-7.6,209.6 A7.4,7.4 0 0 1 6.8,209.6" class="k" style="stroke-width:1.1"/>
<rect x="-13.9" y="203.8" width="4.8" height="3.4" rx="0.8" class="t" />
<line x1="-16.9" y1="209.3" x2="-13" y2="209.3" class="K" style="stroke-width:1.4"/>
<path d="M9.6,216.5 h7.5 v-2.9 h-1.6 v1.3 h-1.5 v-2.3 h-1.6 v2.3 h-1.3 v-1.3 h-1.5 Z" class="f" />
<rect x="24.9" y="172.3" width="16.5" height="31.1" rx="1.5" class="kw" />
<path d="M25.9,178.1 L39.9,178.1 L39.9,192.6 Q39.9,194.1 38.4,194.1 L27.4,194.1 Q25.9,194.1 25.9,192.6 Z" class="k" />
<line x1="24.9" y1="195.3" x2="41.4" y2="195.3" class="t" />
<circle cx="32.4" cy="198.7" r="1.4" class="f" />
<path d="M30.6,176.4 L32.4,173.3 L34.2,176.4 Z" class="f" />
<line x1="24.9" y1="176.6" x2="41.4" y2="176.6" class="k" />
<line x1="41.4" y1="181" x2="43.6" y2="181" class="t" />
<line x1="41.4" y1="184" x2="43.6" y2="184" class="t" />
<rect x="-22.2" y="227.6" width="45.5" height="12.9" rx="0" class="w" />
<path d="M-22.2,227.6 L-22.2,240.5 M23.3,227.6 L23.3,240.5 M-24.7,227.6 L-24.7,229.6 L-39.2,240.5 M25.2,227.6 L25.2,229.6 L39.8,240.5" class="k" />
<line x1="-18.2" y1="229" x2="-18.2" y2="240" class="g" />
<line x1="-16.4" y1="229" x2="-16.4" y2="240" class="g" />
<line x1="-14.7" y1="229" x2="-14.7" y2="240" class="g" />
<line x1="14.3" y1="229" x2="14.3" y2="240" class="g" />
<line x1="16" y1="229" x2="16" y2="240" class="g" />
<line x1="17.8" y1="229" x2="17.8" y2="240" class="g" />
<rect x="-0.9" y="232.5" width="2" height="8" rx="0" class="f" />
<line x1="0.1" y1="228" x2="0.1" y2="240" class="t" />
<rect x="-34" y="238" width="5.5" height="2.5" rx="0" class="t" />
<rect x="29" y="238" width="5.5" height="2.5" rx="0" class="t" />
<rect x="-40.2" y="240.6" width="81.0" height="10.0" rx="1.5" class="kw" />
<line x1="-40" y1="247" x2="40.6" y2="247" class="k" />
<line x1="-40" y1="243.6" x2="40.6" y2="243.6" class="g" />
<line x1="-36" y1="241" x2="-36" y2="251" class="g" />
<line x1="-32" y1="241" x2="-32" y2="251" class="g" />
<line x1="31.6" y1="241" x2="31.6" y2="251" class="g" />
<line x1="35.6" y1="241" x2="35.6" y2="251" class="g" />
<path d="M-48,252 L-22,252 Q-19.2,252.3 -18.6,255.6 L-20.4,255.6 Q-20.6,254.6 -22,254.6 L-48,254.6 Q-49.3,254.6 -49.3,253.3 Q-49.3,252 -48,252 Z" class="kw" style="stroke-width:1.1"/>
<path d="M48.2,252 L21.8,252 Q19,252.3 18.4,255.6 L20.2,255.6 Q20.4,254.6 21.8,254.6 L48.2,254.6 Q49.5,254.6 49.5,253.3 Q49.5,252 48.2,252 Z" class="kw" style="stroke-width:1.1"/>
<line x1="-18" y1="254" x2="18" y2="254" class="g" />
<rect x="-31.4" y="254.6" width="5.6" height="3.6" rx="0.8" class="kw" />
<rect x="26" y="254.6" width="5.6" height="3.6" rx="0.8" class="kw" />
<path d="M-32,255 L-31.2,268.5 Q-31,271.7 -27.5,271.7 L27.7,271.7 Q31.2,271.7 31.4,268.5 L32.2,255" class="k" />
<line x1="-27" y1="258.4" x2="-27" y2="271" class="gg" />
<line x1="-24" y1="258.4" x2="-24" y2="271" class="gg" />
<line x1="24.2" y1="258.4" x2="24.2" y2="271" class="gg" />
<line x1="27.2" y1="258.4" x2="27.2" y2="271" class="gg" />
<line x1="-18" y1="256" x2="-18" y2="271" class="gg" />
<line x1="18" y1="256" x2="18" y2="271" class="gg" />
<rect x="-30.3" y="271.9" width="60.8" height="72.3" rx="0" class="k" />
<line x1="-30.3" y1="272.2" x2="30.5" y2="272.2" class="K" />
<line x1="-24.8" y1="273" x2="-24.8" y2="344" class="t" />
<line x1="25" y1="273" x2="25" y2="344" class="t" />
<line x1="-27.5" y1="273" x2="-27.5" y2="344" class="gg" />
<line x1="27.7" y1="273" x2="27.7" y2="344" class="gg" />
<rect x="-30" y="282.0" width="2.6" height="3.2" rx="0" class="f" />
<rect x="27.6" y="282.0" width="2.6" height="3.2" rx="0" class="f" />
<rect x="-30" y="326.0" width="2.6" height="3.2" rx="0" class="f" />
<rect x="27.6" y="326.0" width="2.6" height="3.2" rx="0" class="f" />
<rect x="-31" y="344.2" width="62.2" height="7.4" rx="1.8" class="kw" />
<line x1="-27.5" y1="345" x2="-27.5" y2="351" class="gg" />
<line x1="-24.8" y1="345" x2="-24.8" y2="351" class="gg" />
<line x1="25" y1="345" x2="25" y2="351" class="gg" />
<line x1="27.7" y1="345" x2="27.7" y2="351" class="gg" />
<line x1="-25.4" y1="351.6" x2="-25.4" y2="483.4" class="k" style="stroke-width:1.15"/>
<line x1="-22.9" y1="351.6" x2="-22.9" y2="483.4" class="k" style="stroke-width:1.15"/>
<line x1="-19.1" y1="351.6" x2="-19.1" y2="483.4" class="k" style="stroke-width:1.15"/>
<line x1="19.6" y1="351.6" x2="19.6" y2="483.4" class="k" style="stroke-width:1.15"/>
<line x1="23.4" y1="351.6" x2="23.4" y2="483.4" class="k" style="stroke-width:1.15"/>
<line x1="25.9" y1="351.6" x2="25.9" y2="483.4" class="k" style="stroke-width:1.15"/>
<line x1="-19.1" y1="354.8" x2="19.6" y2="354.8" class="K" />
<line x1="-19.1" y1="352.2" x2="19.6" y2="352.2" class="t" />
<rect x="-28.4" y="351.6" width="4.6" height="3.0" rx="1.2" class="kw" />
<rect x="23.9" y="351.6" width="4.5" height="3.0" rx="1.2" class="kw" />
<line x1="-19.6" y1="477.6" x2="19.8" y2="477.6" class="k" />
<line x1="-19.6" y1="479.6" x2="19.8" y2="479.6" class="g" />
<rect x="-27.6" y="477.6" width="2.2" height="5.8" rx="0" class="k" />
<rect x="25.6" y="477.6" width="2.2" height="5.8" rx="0" class="k" />
<rect x="-3.6" y="472.6" width="7.6" height="10.0" rx="0" class="kw" />
<rect x="-4.4" y="471.6" width="9.2" height="2.2" rx="1" class="kw" />
<line x1="-3.6" y1="480.4" x2="4" y2="480.4" class="t" />
<path d="M-41.8,525.6 L-41.8,517.4 Q-41.6,514.4 -38.6,514.4 L39,514.4 Q42,514.4 42.2,517.4 L42.2,525.6" class="k" style="stroke-width:1.1"/>
<rect x="-39.6" y="515.2" width="11.6" height="3.4" rx="0.8" class="t" />
<rect x="28.5" y="515.2" width="11.5" height="3.4" rx="0.8" class="t" />
<line x1="-41.8" y1="519.2" x2="42.2" y2="519.2" class="t" />
<line x1="-26.8" y1="522.8" x2="27.5" y2="522.8" class="t" />
<rect x="-26.8" y="523.6" width="54.3" height="2.1" fill="#2a2a2a"/>
<line x1="-37" y1="519.8" x2="-37" y2="525.5" class="gg" />
<line x1="-34" y1="519.8" x2="-34" y2="525.5" class="gg" />
<line x1="-31" y1="519.8" x2="-31" y2="525.5" class="gg" />
<line x1="31" y1="519.8" x2="31" y2="525.5" class="gg" />
<line x1="34" y1="519.8" x2="34" y2="525.5" class="gg" />
<line x1="37" y1="519.8" x2="37" y2="525.5" class="gg" />
<line x1="0" y1="241" x2="0" y2="560" class="c" stroke-dashoffset="3.8"/>
</g>
<g transform="translate(960.9 0)">
<rect x="-45.4" y="111.5" width="90.8" height="115.1" rx="3" class="kw" />
<rect x="-42.7" y="114.2" width="85.4" height="109.7" rx="1.5" class="g" />
<circle cx="-41" cy="115.6" r="2.1" class="f" />
<circle cx="41" cy="115.6" r="2.1" class="f" />
<circle cx="-41" cy="222.2" r="2.1" class="f" />
<circle cx="41" cy="222.2" r="2.1" class="f" />
<line x1="-43.6" y1="176.3" x2="-25" y2="176.3" class="g" />
<line x1="-43.6" y1="185" x2="-25" y2="185" class="g" />
<rect x="-43.4" y="180.3" width="18" height="2.2" rx="0" class="w" style="fill:#ddd"/>
<rect x="-25.6" y="172.3" width="50.5" height="55.3" rx="1.5" class="kw" />
<rect x="-20.7" y="177.2" width="40.7" height="41.7" rx="0.5" class="k" />
<line x1="-20.7" y1="178.3" x2="20" y2="178.3" class="t" />
<rect x="-7.7" y="188.3" width="14.6" height="10.7" rx="0" class="k" />
<line x1="-25" y1="220.6" x2="24.4" y2="220.6" class="k" />
<line x1="-21.4" y1="172.5" x2="-21.4" y2="227.4" class="t" />
<line x1="20.6" y1="172.5" x2="20.6" y2="227.4" class="t" />
<circle cx="-23.7" cy="174.5" r="1.3" class="f" />
<circle cx="22.8" cy="174.5" r="1.3" class="f" />
<circle cx="-23.7" cy="222.6" r="1.4" class="f" />
<circle cx="22.8" cy="222.6" r="1.4" class="f" />
<rect x="-25.6" y="221.5" width="4.3" height="6.1" rx="0.8" class="kw" />
<rect x="20.5" y="221.5" width="4.4" height="6.1" rx="0.8" class="kw" />
<circle cx="-0.4" cy="212.1" r="5.3" class="k" style="stroke-width:3"/>
<circle cx="-0.4" cy="212.1" r="5.3" class="k" style="stroke:#fff;stroke-width:1.1;stroke-dasharray:0.8 1.6"/>
<path d="M-7.6,209.6 A7.4,7.4 0 0 1 6.8,209.6" class="k" style="stroke-width:1.1"/>
<rect x="-13.9" y="203.8" width="4.8" height="3.4" rx="0.8" class="t" />
<line x1="-16.9" y1="209.3" x2="-13" y2="209.3" class="K" style="stroke-width:1.4"/>
<path d="M9.6,216.5 h7.5 v-2.9 h-1.6 v1.3 h-1.5 v-2.3 h-1.6 v2.3 h-1.3 v-1.3 h-1.5 Z" class="f" />
<rect x="24.9" y="172.3" width="16.5" height="31.1" rx="1.5" class="kw" />
<path d="M25.9,178.1 L39.9,178.1 L39.9,192.6 Q39.9,194.1 38.4,194.1 L27.4,194.1 Q25.9,194.1 25.9,192.6 Z" class="k" />
<line x1="24.9" y1="195.3" x2="41.4" y2="195.3" class="t" />
<circle cx="32.4" cy="198.7" r="1.4" class="f" />
<path d="M30.6,176.4 L32.4,173.3 L34.2,176.4 Z" class="f" />
<line x1="24.9" y1="176.6" x2="41.4" y2="176.6" class="k" />
<line x1="41.4" y1="181" x2="43.6" y2="181" class="t" />
<line x1="41.4" y1="184" x2="43.6" y2="184" class="t" />
<rect x="-22.2" y="227.6" width="45.5" height="12.9" rx="0" class="w" />
<path d="M-22.2,227.6 L-22.2,240.5 M23.3,227.6 L23.3,240.5 M-24.7,227.6 L-24.7,229.6 L-39.2,240.5 M25.2,227.6 L25.2,229.6 L39.8,240.5" class="k" />
<line x1="-18.2" y1="229" x2="-18.2" y2="240" class="g" />
<line x1="-16.4" y1="229" x2="-16.4" y2="240" class="g" />
<line x1="-14.7" y1="229" x2="-14.7" y2="240" class="g" />
<line x1="14.3" y1="229" x2="14.3" y2="240" class="g" />
<line x1="16" y1="229" x2="16" y2="240" class="g" />
<line x1="17.8" y1="229" x2="17.8" y2="240" class="g" />
<rect x="-0.9" y="232.5" width="2" height="8" rx="0" class="f" />
<line x1="0.1" y1="228" x2="0.1" y2="240" class="t" />
<rect x="-34" y="238" width="5.5" height="2.5" rx="0" class="t" />
<rect x="29" y="238" width="5.5" height="2.5" rx="0" class="t" />
<rect x="-40.2" y="240.6" width="81.0" height="10.0" rx="1.5" class="kw" />
<line x1="-40" y1="247" x2="40.6" y2="247" class="k" />
<line x1="-40" y1="243.6" x2="40.6" y2="243.6" class="g" />
<line x1="-36" y1="241" x2="-36" y2="251" class="g" />
<line x1="-32" y1="241" x2="-32" y2="251" class="g" />
<line x1="31.6" y1="241" x2="31.6" y2="251" class="g" />
<line x1="35.6" y1="241" x2="35.6" y2="251" class="g" />
<path d="M-48,252 L-22,252 Q-19.2,252.3 -18.6,255.6 L-20.4,255.6 Q-20.6,254.6 -22,254.6 L-48,254.6 Q-49.3,254.6 -49.3,253.3 Q-49.3,252 -48,252 Z" class="kw" style="stroke-width:1.1"/>
<path d="M48.2,252 L21.8,252 Q19,252.3 18.4,255.6 L20.2,255.6 Q20.4,254.6 21.8,254.6 L48.2,254.6 Q49.5,254.6 49.5,253.3 Q49.5,252 48.2,252 Z" class="kw" style="stroke-width:1.1"/>
<line x1="-18" y1="254" x2="18" y2="254" class="g" />
<rect x="-31.4" y="254.6" width="5.6" height="3.6" rx="0.8" class="kw" />
<rect x="26" y="254.6" width="5.6" height="3.6" rx="0.8" class="kw" />
<path d="M-32,255 L-31.2,268.5 Q-31,271.7 -27.5,271.7 L27.7,271.7 Q31.2,271.7 31.4,268.5 L32.2,255" class="k" />
<line x1="-27" y1="258.4" x2="-27" y2="271" class="gg" />
<line x1="-24" y1="258.4" x2="-24" y2="271" class="gg" />
<line x1="24.2" y1="258.4" x2="24.2" y2="271" class="gg" />
<line x1="27.2" y1="258.4" x2="27.2" y2="271" class="gg" />
<line x1="-18" y1="256" x2="-18" y2="271" class="gg" />
<line x1="18" y1="256" x2="18" y2="271" class="gg" />
<rect x="-30.3" y="271.9" width="60.8" height="72.3" rx="0" class="k" />
<line x1="-30.3" y1="272.2" x2="30.5" y2="272.2" class="K" />
<line x1="-24.8" y1="273" x2="-24.8" y2="344" class="t" />
<line x1="25" y1="273" x2="25" y2="344" class="t" />
<line x1="-27.5" y1="273" x2="-27.5" y2="344" class="gg" />
<line x1="27.7" y1="273" x2="27.7" y2="344" class="gg" />
<rect x="-30" y="282.0" width="2.6" height="3.2" rx="0" class="f" />
<rect x="27.6" y="282.0" width="2.6" height="3.2" rx="0" class="f" />
<rect x="-30" y="326.0" width="2.6" height="3.2" rx="0" class="f" />
<rect x="27.6" y="326.0" width="2.6" height="3.2" rx="0" class="f" />
<rect x="-31" y="344.2" width="62.2" height="7.4" rx="1.8" class="kw" />
<line x1="-27.5" y1="345" x2="-27.5" y2="351" class="gg" />
<line x1="-24.8" y1="345" x2="-24.8" y2="351" class="gg" />
<line x1="25" y1="345" x2="25" y2="351" class="gg" />
<line x1="27.7" y1="345" x2="27.7" y2="351" class="gg" />
<line x1="-25.4" y1="351.6" x2="-25.4" y2="483.4" class="k" style="stroke-width:1.15"/>
<line x1="-22.9" y1="351.6" x2="-22.9" y2="483.4" class="k" style="stroke-width:1.15"/>
<line x1="-19.1" y1="351.6" x2="-19.1" y2="483.4" class="k" style="stroke-width:1.15"/>
<line x1="19.6" y1="351.6" x2="19.6" y2="483.4" class="k" style="stroke-width:1.15"/>
<line x1="23.4" y1="351.6" x2="23.4" y2="483.4" class="k" style="stroke-width:1.15"/>
<line x1="25.9" y1="351.6" x2="25.9" y2="483.4" class="k" style="stroke-width:1.15"/>
<line x1="-19.1" y1="354.8" x2="19.6" y2="354.8" class="K" />
<line x1="-19.1" y1="352.2" x2="19.6" y2="352.2" class="t" />
<rect x="-28.4" y="351.6" width="4.6" height="3.0" rx="1.2" class="kw" />
<rect x="23.9" y="351.6" width="4.5" height="3.0" rx="1.2" class="kw" />
<line x1="-19.6" y1="477.6" x2="19.8" y2="477.6" class="k" />
<line x1="-19.6" y1="479.6" x2="19.8" y2="479.6" class="g" />
<rect x="-27.6" y="477.6" width="2.2" height="5.8" rx="0" class="k" />
<rect x="25.6" y="477.6" width="2.2" height="5.8" rx="0" class="k" />
<rect x="-3.6" y="472.6" width="7.6" height="10.0" rx="0" class="kw" />
<rect x="-4.4" y="471.6" width="9.2" height="2.2" rx="1" class="kw" />
<line x1="-3.6" y1="480.4" x2="4" y2="480.4" class="t" />
<path d="M-41.8,525.6 L-41.8,517.4 Q-41.6,514.4 -38.6,514.4 L39,514.4 Q42,514.4 42.2,517.4 L42.2,525.6" class="k" style="stroke-width:1.1"/>
<rect x="-39.6" y="515.2" width="11.6" height="3.4" rx="0.8" class="t" />
<rect x="28.5" y="515.2" width="11.5" height="3.4" rx="0.8" class="t" />
<line x1="-41.8" y1="519.2" x2="42.2" y2="519.2" class="t" />
<line x1="-26.8" y1="522.8" x2="27.5" y2="522.8" class="t" />
<rect x="-26.8" y="523.6" width="54.3" height="2.1" fill="#2a2a2a"/>
<line x1="-37" y1="519.8" x2="-37" y2="525.5" class="gg" />
<line x1="-34" y1="519.8" x2="-34" y2="525.5" class="gg" />
<line x1="-31" y1="519.8" x2="-31" y2="525.5" class="gg" />
<line x1="31" y1="519.8" x2="31" y2="525.5" class="gg" />
<line x1="34" y1="519.8" x2="34" y2="525.5" class="gg" />
<line x1="37" y1="519.8" x2="37" y2="525.5" class="gg" />
<line x1="0" y1="241" x2="0" y2="560" class="c" stroke-dashoffset="3.8"/>
</g>
<g transform="translate(1062.0 0)">
<rect x="-45.4" y="111.5" width="90.8" height="115.1" rx="3" class="kw" />
<rect x="-42.7" y="114.2" width="85.4" height="109.7" rx="1.5" class="g" />
<circle cx="-41" cy="115.6" r="2.1" class="f" />
<circle cx="41" cy="115.6" r="2.1" class="f" />
<circle cx="-41" cy="222.2" r="2.1" class="f" />
<circle cx="41" cy="222.2" r="2.1" class="f" />
<line x1="-43.6" y1="176.3" x2="-25" y2="176.3" class="g" />
<line x1="-43.6" y1="185" x2="-25" y2="185" class="g" />
<rect x="-43.4" y="180.3" width="18" height="2.2" rx="0" class="w" style="fill:#ddd"/>
<rect x="-25.6" y="172.3" width="50.5" height="55.3" rx="1.5" class="kw" />
<rect x="-20.7" y="177.2" width="40.7" height="41.7" rx="0.5" class="k" />
<line x1="-20.7" y1="178.3" x2="20" y2="178.3" class="t" />
<rect x="-7.7" y="188.3" width="14.6" height="10.7" rx="0" class="k" />
<line x1="-25" y1="220.6" x2="24.4" y2="220.6" class="k" />
<line x1="-21.4" y1="172.5" x2="-21.4" y2="227.4" class="t" />
<line x1="20.6" y1="172.5" x2="20.6" y2="227.4" class="t" />
<circle cx="-23.7" cy="174.5" r="1.3" class="f" />
<circle cx="22.8" cy="174.5" r="1.3" class="f" />
<circle cx="-23.7" cy="222.6" r="1.4" class="f" />
<circle cx="22.8" cy="222.6" r="1.4" class="f" />
<rect x="-25.6" y="221.5" width="4.3" height="6.1" rx="0.8" class="kw" />
<rect x="20.5" y="221.5" width="4.4" height="6.1" rx="0.8" class="kw" />
<circle cx="-0.4" cy="212.1" r="5.3" class="k" style="stroke-width:3"/>
<circle cx="-0.4" cy="212.1" r="5.3" class="k" style="stroke:#fff;stroke-width:1.1;stroke-dasharray:0.8 1.6"/>
<path d="M-7.6,209.6 A7.4,7.4 0 0 1 6.8,209.6" class="k" style="stroke-width:1.1"/>
<rect x="-13.9" y="203.8" width="4.8" height="3.4" rx="0.8" class="t" />
<line x1="-16.9" y1="209.3" x2="-13" y2="209.3" class="K" style="stroke-width:1.4"/>
<path d="M9.6,216.5 h7.5 v-2.9 h-1.6 v1.3 h-1.5 v-2.3 h-1.6 v2.3 h-1.3 v-1.3 h-1.5 Z" class="f" />
<rect x="24.9" y="172.3" width="16.5" height="31.1" rx="1.5" class="kw" />
<path d="M25.9,178.1 L39.9,178.1 L39.9,192.6 Q39.9,194.1 38.4,194.1 L27.4,194.1 Q25.9,194.1 25.9,192.6 Z" class="k" />
<line x1="24.9" y1="195.3" x2="41.4" y2="195.3" class="t" />
<circle cx="32.4" cy="198.7" r="1.4" class="f" />
<path d="M30.6,176.4 L32.4,173.3 L34.2,176.4 Z" class="f" />
<line x1="24.9" y1="176.6" x2="41.4" y2="176.6" class="k" />
<line x1="41.4" y1="181" x2="43.6" y2="181" class="t" />
<line x1="41.4" y1="184" x2="43.6" y2="184" class="t" />
<rect x="-22.2" y="227.6" width="45.5" height="12.9" rx="0" class="w" />
<path d="M-22.2,227.6 L-22.2,240.5 M23.3,227.6 L23.3,240.5 M-24.7,227.6 L-24.7,229.6 L-39.2,240.5 M25.2,227.6 L25.2,229.6 L39.8,240.5" class="k" />
<line x1="-18.2" y1="229" x2="-18.2" y2="240" class="g" />
<line x1="-16.4" y1="229" x2="-16.4" y2="240" class="g" />
<line x1="-14.7" y1="229" x2="-14.7" y2="240" class="g" />
<line x1="14.3" y1="229" x2="14.3" y2="240" class="g" />
<line x1="16" y1="229" x2="16" y2="240" class="g" />
<line x1="17.8" y1="229" x2="17.8" y2="240" class="g" />
<rect x="-0.9" y="232.5" width="2" height="8" rx="0" class="f" />
<line x1="0.1" y1="228" x2="0.1" y2="240" class="t" />
<rect x="-34" y="238" width="5.5" height="2.5" rx="0" class="t" />
<rect x="29" y="238" width="5.5" height="2.5" rx="0" class="t" />
<rect x="-40.2" y="240.6" width="81.0" height="10.0" rx="1.5" class="kw" />
<line x1="-40" y1="247" x2="40.6" y2="247" class="k" />
<line x1="-40" y1="243.6" x2="40.6" y2="243.6" class="g" />
<line x1="-36" y1="241" x2="-36" y2="251" class="g" />
<line x1="-32" y1="241" x2="-32" y2="251" class="g" />
<line x1="31.6" y1="241" x2="31.6" y2="251" class="g" />
<line x1="35.6" y1="241" x2="35.6" y2="251" class="g" />
<path d="M-48,252 L-22,252 Q-19.2,252.3 -18.6,255.6 L-20.4,255.6 Q-20.6,254.6 -22,254.6 L-48,254.6 Q-49.3,254.6 -49.3,253.3 Q-49.3,252 -48,252 Z" class="kw" style="stroke-width:1.1"/>
<path d="M48.2,252 L21.8,252 Q19,252.3 18.4,255.6 L20.2,255.6 Q20.4,254.6 21.8,254.6 L48.2,254.6 Q49.5,254.6 49.5,253.3 Q49.5,252 48.2,252 Z" class="kw" style="stroke-width:1.1"/>
<line x1="-18" y1="254" x2="18" y2="254" class="g" />
<rect x="-31.4" y="254.6" width="5.6" height="3.6" rx="0.8" class="kw" />
<rect x="26" y="254.6" width="5.6" height="3.6" rx="0.8" class="kw" />
<path d="M-32,255 L-31.2,268.5 Q-31,271.7 -27.5,271.7 L27.7,271.7 Q31.2,271.7 31.4,268.5 L32.2,255" class="k" />
<line x1="-27" y1="258.4" x2="-27" y2="271" class="gg" />
<line x1="-24" y1="258.4" x2="-24" y2="271" class="gg" />
<line x1="24.2" y1="258.4" x2="24.2" y2="271" class="gg" />
<line x1="27.2" y1="258.4" x2="27.2" y2="271" class="gg" />
<line x1="-18" y1="256" x2="-18" y2="271" class="gg" />
<line x1="18" y1="256" x2="18" y2="271" class="gg" />
<rect x="-30.3" y="271.9" width="60.8" height="72.3" rx="0" class="k" />
<line x1="-30.3" y1="272.2" x2="30.5" y2="272.2" class="K" />
<line x1="-24.8" y1="273" x2="-24.8" y2="344" class="t" />
<line x1="25" y1="273" x2="25" y2="344" class="t" />
<line x1="-27.5" y1="273" x2="-27.5" y2="344" class="gg" />
<line x1="27.7" y1="273" x2="27.7" y2="344" class="gg" />
<rect x="-30" y="282.0" width="2.6" height="3.2" rx="0" class="f" />
<rect x="27.6" y="282.0" width="2.6" height="3.2" rx="0" class="f" />
<rect x="-30" y="326.0" width="2.6" height="3.2" rx="0" class="f" />
<rect x="27.6" y="326.0" width="2.6" height="3.2" rx="0" class="f" />
<rect x="-31" y="344.2" width="62.2" height="7.4" rx="1.8" class="kw" />
<line x1="-27.5" y1="345" x2="-27.5" y2="351" class="gg" />
<line x1="-24.8" y1="345" x2="-24.8" y2="351" class="gg" />
<line x1="25" y1="345" x2="25" y2="351" class="gg" />
<line x1="27.7" y1="345" x2="27.7" y2="351" class="gg" />
<line x1="-25.4" y1="351.6" x2="-25.4" y2="483.4" class="k" style="stroke-width:1.15"/>
<line x1="-22.9" y1="351.6" x2="-22.9" y2="483.4" class="k" style="stroke-width:1.15"/>
<line x1="-19.1" y1="351.6" x2="-19.1" y2="483.4" class="k" style="stroke-width:1.15"/>
<line x1="19.6" y1="351.6" x2="19.6" y2="483.4" class="k" style="stroke-width:1.15"/>
<line x1="23.4" y1="351.6" x2="23.4" y2="483.4" class="k" style="stroke-width:1.15"/>
<line x1="25.9" y1="351.6" x2="25.9" y2="483.4" class="k" style="stroke-width:1.15"/>
<line x1="-19.1" y1="354.8" x2="19.6" y2="354.8" class="K" />
<line x1="-19.1" y1="352.2" x2="19.6" y2="352.2" class="t" />
<rect x="-28.4" y="351.6" width="4.6" height="3.0" rx="1.2" class="kw" />
<rect x="23.9" y="351.6" width="4.5" height="3.0" rx="1.2" class="kw" />
<line x1="-19.6" y1="477.6" x2="19.8" y2="477.6" class="k" />
<line x1="-19.6" y1="479.6" x2="19.8" y2="479.6" class="g" />
<rect x="-27.6" y="477.6" width="2.2" height="5.8" rx="0" class="k" />
<rect x="25.6" y="477.6" width="2.2" height="5.8" rx="0" class="k" />
<rect x="-3.6" y="472.6" width="7.6" height="10.0" rx="0" class="kw" />
<rect x="-4.4" y="471.6" width="9.2" height="2.2" rx="1" class="kw" />
<line x1="-3.6" y1="480.4" x2="4" y2="480.4" class="t" />
<path d="M-41.8,525.6 L-41.8,517.4 Q-41.6,514.4 -38.6,514.4 L39,514.4 Q42,514.4 42.2,517.4 L42.2,525.6" class="k" style="stroke-width:1.1"/>
<rect x="-39.6" y="515.2" width="11.6" height="3.4" rx="0.8" class="t" />
<rect x="28.5" y="515.2" width="11.5" height="3.4" rx="0.8" class="t" />
<line x1="-41.8" y1="519.2" x2="42.2" y2="519.2" class="t" />
<line x1="-26.8" y1="522.8" x2="27.5" y2="522.8" class="t" />
<rect x="-26.8" y="523.6" width="54.3" height="2.1" fill="#2a2a2a"/>
<line x1="-37" y1="519.8" x2="-37" y2="525.5" class="gg" />
<line x1="-34" y1="519.8" x2="-34" y2="525.5" class="gg" />
<line x1="-31" y1="519.8" x2="-31" y2="525.5" class="gg" />
<line x1="31" y1="519.8" x2="31" y2="525.5" class="gg" />
<line x1="34" y1="519.8" x2="34" y2="525.5" class="gg" />
<line x1="37" y1="519.8" x2="37" y2="525.5" class="gg" />
<line x1="0" y1="241" x2="0" y2="560" class="c" stroke-dashoffset="3.8"/>
</g>
<path d="M800.6,463.70000000000005 L797.9,463.70000000000005 L797.9,477.1 L803.6,477.1" class="k" style="stroke-width:1"/>
<rect x="806.0" y="466.7" width="7.2" height="2.8" rx="0" class="kw" />
<rect x="802.6" y="469.4" width="12.6" height="5.7" rx="1" class="kw" />
<rect x="802.6" y="471.90000000000003" width="12.6" height="1.5" rx="0" class="f" />
<line x1="802.6" y1="470.70000000000005" x2="815.2" y2="470.70000000000005" class="t" />
<rect x="804.2" y="475.3" width="10.6" height="3.2" rx="0" class="f" />
<line x1="804.6" y1="476.90000000000003" x2="814.6" y2="476.90000000000003" class="k" style="stroke:#fff;stroke-width:0.5"/>
<path d="M805.0,478.5 L814.2,478.5 L816.2,483.3 L803.0,483.3 Z" class="kw" />
<line x1="804.0" y1="479.90000000000003" x2="815.2" y2="479.90000000000003" class="k" style="stroke-width:0.9"/>
<line x1="804.0" y1="481.1" x2="815.2" y2="481.1" class="k" style="stroke-width:0.9"/>
<line x1="804.0" y1="482.3" x2="815.2" y2="482.3" class="k" style="stroke-width:0.9"/>
<rect x="814.4" y="469.1" width="6.0" height="11.0" rx="1.2" class="kw" />
<line x1="814.4" y1="473.1" x2="820.4" y2="473.1" class="t" />
<rect x="820.4" y="471.1" width="2.4" height="5.6" rx="0.8" class="kw" />
<rect x="822.8" y="471.7" width="2.4" height="4.4" rx="0" class="f" />
<circle cx="818.2" cy="464.70000000000005" r="2.3" class="kw" />
<path d="M816.6,466.70000000000005 L820.0,469.1" class="k" />
<rect x="792.8" y="454.2" width="7.2" height="7.1" rx="0" class="f" />
<line x1="794.4" y1="454.20000000000005" x2="794.4" y2="461.3" class="k" style="stroke:#666;stroke-width:0.5"/>
<line x1="796.2" y1="454.20000000000005" x2="796.2" y2="461.3" class="k" style="stroke:#666;stroke-width:0.5"/>
<line x1="798.0" y1="454.20000000000005" x2="798.0" y2="461.3" class="k" style="stroke:#666;stroke-width:0.5"/>
<rect x="785.0" y="454.9" width="7.8" height="7.2" rx="1" class="kw" />
<line x1="785.0" y1="455.1" x2="785.0" y2="462.1" class="K" />
<path d="M787.2,462.1 L789.0,458.90000000000003 L790.8000000000001,462.1" class="t" />
<rect x="786.6" y="462.1" width="5.4" height="6.8" rx="1.6" class="kw" />
<line x1="786.6" y1="465.1" x2="792.0" y2="465.1" class="k" />
<line x1="786.6" y1="466.90000000000003" x2="792.0" y2="466.90000000000003" class="t" />
<rect x="820.2" y="454.9" width="5.2" height="4.4" rx="1" class="kw" />
<line x1="818.6" y1="456.1" x2="820.2" y2="456.1" class="k" />
<line x1="818.6" y1="458.1" x2="820.2" y2="458.1" class="k" />
<circle cx="809.6" cy="457.1" r="8.9" class="kw" style="stroke-width:2.5"/>
<circle cx="809.6" cy="457.1" r="8.9" class="k" style="stroke:#fff;stroke-width:1;stroke-dasharray:1.1 1.9"/>
<circle cx="809.6" cy="457.1" r="6.5" class="k" style="stroke-width:1.2"/>
<path d="M805.8000000000001,462.70000000000005 L811.4,456.3" class="K" style="stroke-width:1.6"/>
<circle cx="811.8000000000001" cy="455.8" r="1.1" class="kw" />
<path d="M807.0,465.1 L809.6,460.70000000000005 L812.2,465.1 Z" class="f" />
<line x1="809.6" y1="444.1" x2="809.6" y2="449.1" class="t" />
<line x1="809.6" y1="465.1" x2="809.6" y2="490.1" class="t" />
<line x1="641.4" y1="183.8" x2="641.4" y2="204" class="d" />
<line x1="691.8" y1="183.8" x2="691.8" y2="204" class="d" />
<line x1="641.4" y1="188.3" x2="691.8" y2="188.3" class="d" />
<polygon points="641.4,188.3 648.4,187.10000000000002 648.4,189.5" class="ar"/>
<polygon points="691.8,188.3 684.8,189.5 684.8,187.10000000000002" class="ar"/>
<text x="666.3" y="179.8" text-anchor="middle" font-size="14">150</text>
<line x1="575" y1="204.4" x2="641" y2="204.4" class="d" />
<line x1="575" y1="556.3" x2="649" y2="556.3" class="d" />
<line x1="578.8" y1="204.4" x2="578.8" y2="556.3" class="d" />
<polygon points="578.8,204.4 580.0,211.4 577.5999999999999,211.4" class="ar"/>
<polygon points="578.8,556.3 577.5999999999999,549.3 580.0,549.3" class="ar"/>
<line x1="612.5" y1="206.3" x2="641" y2="206.3" class="d" />
<line x1="612.5" y1="526.2" x2="641" y2="526.2" class="d" />
<line x1="616" y1="206.3" x2="616" y2="526.2" class="d" />
<polygon points="616,206.3 617.2,213.3 614.8,213.3" class="ar"/>
<polygon points="616,526.2 614.8,519.2 617.2,519.2" class="ar"/>
<text x="572.8" y="372.3" text-anchor="middle" font-size="14" transform="rotate(-90 572.8 372.3)">1045 ±5</text>
<text x="612.2" y="371.3" text-anchor="middle" font-size="14" transform="rotate(-90 612.2 371.3)">950</text>
<line x1="758.7" y1="500" x2="758.7" y2="585.6" class="d" />
<line x1="859.8" y1="500" x2="859.8" y2="585.6" class="d" />
<line x1="758.7" y1="582.2" x2="859.8" y2="582.2" class="d" />
<polygon points="758.7,582.2 765.7,581.0 765.7,583.4000000000001" class="ar"/>
<polygon points="859.8,582.2 852.8,583.4000000000001 852.8,581.0" class="ar"/>
<text x="810" y="579.8" text-anchor="middle" font-size="14">300</text>
<line x1="640.8" y1="543" x2="640.8" y2="618" class="d" />
<line x1="1129.6" y1="543" x2="1129.6" y2="618" class="d" />
<line x1="640.8" y1="613.9" x2="1129.6" y2="613.9" class="d" />
<polygon points="640.8,613.9 647.8,612.6999999999999 647.8,615.1" class="ar"/>
<polygon points="1129.6,613.9 1122.6,615.1 1122.6,612.6999999999999" class="ar"/>
<text x="889.3" y="606.9" text-anchor="middle" font-size="14">1450 ±10</text>
<line x1="1107" y1="111.2" x2="1172" y2="111.2" class="d" />
<line x1="1071" y1="556.3" x2="1172" y2="556.3" class="d" />
<line x1="1168.5" y1="111.2" x2="1168.5" y2="556.3" class="d" />
<polygon points="1168.5,111.2 1169.7,118.2 1167.3,118.2" class="ar"/>
<polygon points="1168.5,556.3 1167.3,549.3 1169.7,549.3" class="ar"/>
<text x="1161.7" y="350.8" text-anchor="middle" font-size="14" transform="rotate(-90 1161.7 350.8)">819 ±10</text>
<line x1="1112" y1="498.4" x2="1162.5" y2="498.4" class="d" />
<line x1="1157.3" y1="498.4" x2="1157.3" y2="556.3" class="d" />
<polygon points="1157.3,498.4 1158.5,505.4 1156.1,505.4" class="ar"/>
<polygon points="1157.3,556.3 1156.1,549.3 1158.5,549.3" class="ar"/>
<text x="1153.4" y="528" text-anchor="middle" font-size="14" transform="rotate(-90 1153.4 528)">170 ±5</text>
</g>
</svg>
</body></html>
